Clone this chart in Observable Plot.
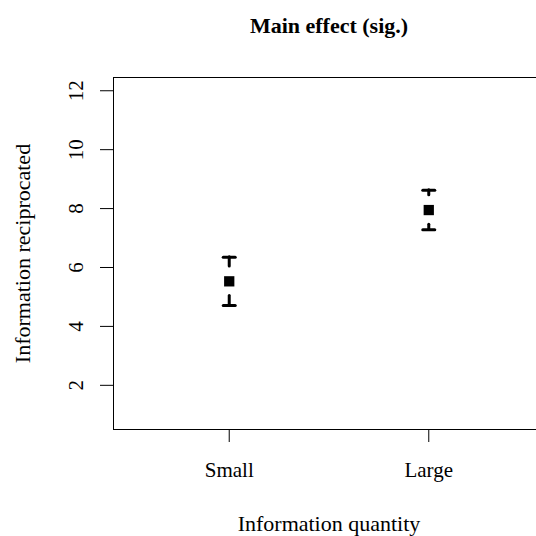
<!DOCTYPE html>
<html><head><meta charset="utf-8">
<script src="https://cdn.jsdelivr.net/npm/d3@7"></script>
<script src="https://cdn.jsdelivr.net/npm/@observablehq/plot@0.6"></script>
<style>html,body{margin:0;padding:0;background:#fff;overflow:hidden}svg{display:block}</style>
</head><body><div id="chart"></div>
<script>
const categories = ["Small", "Large"];
const positions = [1, 2];
const means = [5.53, 7.95];
const upper = [6.35, 8.62];
const lower = [4.71, 7.28];
const yTicks = [2, 4, 6, 8, 10, 12];
const title = "Main effect (sig.)";
const xLabel = "Information quantity";
const yLabel = "Information reciprocated";
const xDomain = [0.42, 2.58];
const yDomain = [0.5, 12.45];
const gap = 0.5;

const rows = categories.map((c, i) => ({cat: c, x: positions[i], mean: means[i], hi: upper[i], lo: lower[i]}));
const capSymbol = {draw(ctx, size) { const r = Math.sqrt(size / Math.PI); ctx.moveTo(-r, 0); ctx.lineTo(r, 0); }};
const font = "'Liberation Serif', 'Times New Roman', serif";
const fs = 21;
const fsLabel = 22;

const chart = Plot.plot({
  width: 536, height: 536,
  marginLeft: 113, marginTop: 77, marginBottom: 107, marginRight: 0,
  style: {fontFamily: font, background: "#fff", color: "#000", overflow: "visible"},
  x: {domain: xDomain, range: [113, 544]},
  y: {domain: yDomain},
  marks: [
    Plot.ruleY([yDomain[0], yDomain[1]], {stroke: "#000", strokeWidth: 1}),
    Plot.ruleX([xDomain[0]], {stroke: "#000", strokeWidth: 1}),
    Plot.axisY({ticks: yTicks, tickSize: 13, tickFormat: () => "", label: null, anchor: "left"}),
    Plot.axisX({ticks: positions, tickSize: 13, tickFormat: () => "", label: null, anchor: "bottom"}),
    Plot.ruleX(rows, {x: "x", y1: d => d.mean + gap, y2: "hi", stroke: "#000", strokeWidth: 3, strokeLinecap: "round"}),
    Plot.ruleX(rows, {x: "x", y1: d => d.mean - gap, y2: "lo", stroke: "#000", strokeWidth: 3, strokeLinecap: "round"}),
    Plot.dot(rows, {x: "x", y: "hi", symbol: capSymbol, r: 6, stroke: "#000", fill: "none", strokeWidth: 3, strokeLinecap: "round"}),
    Plot.dot(rows, {x: "x", y: "lo", symbol: capSymbol, r: 6, stroke: "#000", fill: "none", strokeWidth: 3, strokeLinecap: "round"}),
    Plot.dot(rows, {x: "x", y: "mean", symbol: "square", r: 5.8, fill: "#000", stroke: "none"}),
    Plot.text(yTicks, {y: d => d, text: d => String(d), frameAnchor: "left", dx: -37.5, rotate: -90, fontSize: fs, textAnchor: "middle", lineAnchor: "middle", fill: "#000"}),
    Plot.text(rows, {x: "x", text: "cat", frameAnchor: "bottom", dy: 41, fontSize: fs, textAnchor: "middle", lineAnchor: "middle", fill: "#000"}),
    Plot.text([xLabel], {x: d3.mean(xDomain), text: d => d, frameAnchor: "bottom", dy: 94, fontSize: fsLabel, textAnchor: "middle", lineAnchor: "middle", fill: "#000"}),
    Plot.text([yLabel], {text: d => d, frameAnchor: "left", dx: -91, rotate: -90, fontSize: fsLabel, textAnchor: "middle", lineAnchor: "middle", fill: "#000"}),
    Plot.text([title], {x: d3.mean(xDomain), text: d => d, frameAnchor: "top", dy: -52, fontSize: 22, fontWeight: "bold", textAnchor: "middle", lineAnchor: "middle", fill: "#000"})
  ]
});
document.getElementById("chart").appendChild(chart);
</script>
</body></html>
